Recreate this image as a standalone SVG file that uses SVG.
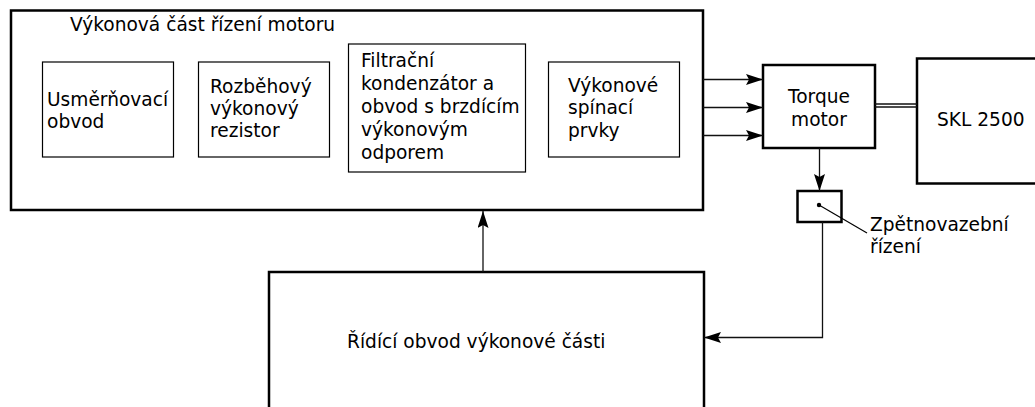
<svg xmlns="http://www.w3.org/2000/svg" width="1035" height="407" viewBox="0 0 1035 407">
  <style>
    text { font-family: "DejaVu Sans", Verdana, sans-serif; font-size: 18.6px; fill: #000; }
    .thick { fill: #fff; stroke: #000; stroke-width: 2.5; }
    .thin { fill: #fff; stroke: #000; stroke-width: 1.2; }
    .wire { fill: none; stroke: #111; stroke-width: 1.3; }
  </style>
  <defs>
    <marker id="arrow" viewBox="0 0 17 11" refX="17" refY="5.5" markerWidth="17" markerHeight="11" markerUnits="userSpaceOnUse" orient="auto">
      <path d="M0,0 L17,5.5 L0,11 L3,5.5 Z" fill="#000"/>
    </marker>
  </defs>

  <rect width="1035" height="407" fill="#fff"/>

  <!-- power stage with its sub-blocks -->
  <g id="power-stage">
    <rect class="thick" x="11" y="10.5" width="692" height="199.5"/>
    <text x="70" y="31">Výkonová část řízení motoru</text>
  </g>
  <g id="rectifier">
    <rect class="thin" x="42.5" y="62" width="131" height="95"/>
    <text x="47" y="106">Usměrňovací</text>
    <text x="47" y="128">obvod</text>
  </g>
  <g id="startup-resistor">
    <rect class="thin" x="198.5" y="62" width="131" height="95"/>
    <text x="210" y="93">Rozběhový</text>
    <text x="210" y="115">výkonový</text>
    <text x="210" y="137">rezistor</text>
  </g>
  <g id="filter-brake">
    <rect class="thin" x="348.5" y="44" width="177" height="128"/>
    <text x="361" y="67">Filtrační</text>
    <text x="361" y="90">kondenzátor a</text>
    <text x="361" y="113">obvod s brzdícím</text>
    <text x="361" y="136">výkonovým</text>
    <text x="361" y="159">odporem</text>
  </g>
  <g id="switches">
    <rect class="thin" x="548.5" y="62" width="131" height="95"/>
    <text x="568" y="92">Výkonové</text>
    <text x="568" y="114">spínací</text>
    <text x="568" y="137">prvky</text>
  </g>

  <g id="torque-motor">
    <rect class="thick" x="763" y="65" width="112" height="83"/>
    <text x="819" y="103" text-anchor="middle">Torque</text>
    <text x="819" y="126" text-anchor="middle">motor</text>
  </g>

  <g id="skl">
    <rect class="thick" x="917" y="58.5" width="130" height="125"/>
    <text x="937" y="126">SKL 2500</text>
  </g>

  <g id="feedback">
    <rect class="thick" x="797.5" y="191" width="44" height="31"/>
    <circle cx="819" cy="205" r="2.2" fill="#000"/>
    <line x1="819" y1="205" x2="867" y2="233" stroke="#000" stroke-width="1.2"/>
    <text x="870" y="231">Zpětnovazební</text>
    <text x="870" y="253">řízení</text>
  </g>

  <g id="control-circuit">
    <rect class="thick" x="269" y="272" width="435" height="150"/>
    <text x="347" y="348">Řídící obvod výkonové části</text>
  </g>

  <!-- connectors -->
  <g id="connectors">
    <line class="wire" x1="703" y1="79.5" x2="763" y2="79.5" marker-end="url(#arrow)"/>
    <line class="wire" x1="703" y1="107.5" x2="763" y2="107.5" marker-end="url(#arrow)"/>
    <line class="wire" x1="703" y1="135.5" x2="763" y2="135.5" marker-end="url(#arrow)"/>
    <line class="wire" x1="875" y1="104" x2="917" y2="104" stroke-width="1"/>
    <line class="wire" x1="875" y1="107" x2="917" y2="107" stroke-width="1"/>
    <line class="wire" x1="819.5" y1="148" x2="819.5" y2="191" marker-end="url(#arrow)"/>
    <polyline class="wire" points="822.5,222 822.5,337.5 704,337.5" marker-end="url(#arrow)"/>
    <line class="wire" x1="483" y1="272" x2="483" y2="211" marker-end="url(#arrow)"/>
  </g>
</svg>
